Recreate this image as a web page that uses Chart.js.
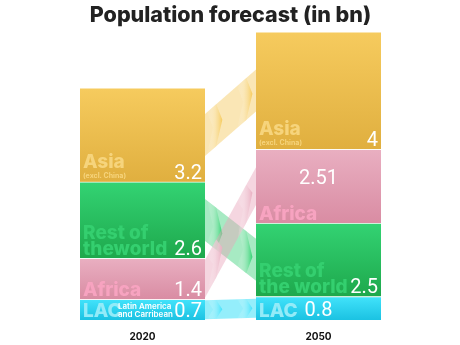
<!DOCTYPE html>
<html>
<head>
<meta charset="utf-8">
<script src="https://cdn.jsdelivr.net/npm/chart.js@4"></script>
<style>
  html, body { margin: 0; padding: 0; background: #fff; overflow: hidden; }
  #wrap { width: 460px; height: 345px; position: relative; }
</style>
</head>
<body>
<div id="wrap"><canvas id="popChart"></canvas></div>
<script>
var years = ['2020', '2050'];
var asia = [3.2, 4];
var restOfWorld = [2.6, 2.5];
var africa = [1.4, 2.51];
var lac = [0.7, 0.8];
// stacking order from the bottom, per year
var order2020 = ['lac', 'africa', 'rest', 'asia'];
var order2050 = ['lac', 'rest', 'africa', 'asia'];

var values = { asia: asia, rest: restOfWorld, africa: africa, lac: lac };
var orders = [order2020, order2050];

var looks = {
  asia:   { top: '#f6cb5e', bottom: '#e0af3f', name: '#f6d47c', band: 'rgba(244,200,90,0.45)',
            lines: [['Asia'], ['Asia']], sub: '(excl. China)' },
  rest:   { top: '#33d373', bottom: '#1ea84c', name: '#34cf6f', band: 'rgba(46,204,113,0.42)',
            lines: [['Rest of', 'theworld'], ['Rest of', 'the world']] },
  africa: { top: '#e9afc1', bottom: '#d98ca3', name: '#f7a3c0', band: 'rgba(232,165,186,0.45)',
            lines: [['Africa'], ['Africa']] },
  lac:    { top: '#42e3fb', bottom: '#1bc2e2', name: '#93ebf8', band: 'rgba(61,224,248,0.55)',
            lines: [['LAC'], ['LAC']], small: ['Latin America', 'and Carribean'] }
};

// floating [start, end] range of a region in each year's stack
function rangesFor(key) {
  return years.map(function (y, i) {
    var start = 0;
    for (var k = 0; k < orders[i].length; k++) {
      var r = orders[i][k];
      if (r === key) return [start, start + values[r][i]];
      start += values[r][i];
    }
  });
}

function totals() {
  return years.map(function (y, i) {
    return orders[i].reduce(function (s, k) { return s + values[k][i]; }, 0);
  });
}

function fillFor(key) {
  return function (ctx) {
    var chart = ctx.chart, look = looks[key];
    if (!chart.chartArea || !ctx.raw) return look.top;
    var ys = chart.scales.y;
    var t = ys.getPixelForValue(ctx.raw[1]), b = ys.getPixelForValue(ctx.raw[0]);
    var g = chart.ctx.createLinearGradient(0, t, 0, b);
    g.addColorStop(0, look.top);
    g.addColorStop(1, look.bottom);
    return g;
  };
}

var keys = ['lac', 'africa', 'rest', 'asia'];

function box(el) {
  return {
    left: el.x - el.width / 2, right: el.x + el.width / 2,
    top: Math.min(el.y, el.base), bottom: Math.max(el.y, el.base), x: el.x
  };
}

// translucent flow bands with arrow heads between the two bars
var flowPlugin = {
  id: 'flows',
  beforeDatasetsDraw: function (chart) {
    var c = chart.ctx;
    ['asia', 'rest', 'africa', 'lac'].forEach(function (key) {
      var meta = chart.getDatasetMeta(keys.indexOf(key));
      var a = box(meta.data[0]), b = box(meta.data[1]);
      var x0 = a.right, x1 = b.left, gap = x1 - x0;
      var c0 = (a.top + a.bottom) / 2, c1 = (b.top + b.bottom) / 2;
      var th = Math.min(42, 0.92 * Math.min(a.bottom - a.top, b.bottom - b.top));
      var yAt = function (x) { return c0 + (c1 - c0) * (x - x0) / gap; };
      var look = looks[key];

      c.save();
      c.fillStyle = look.band;
      c.beginPath();
      c.moveTo(x0, c0 - th / 2);
      c.lineTo(x1, c1 - th / 2);
      c.lineTo(x1, c1 + th / 2);
      c.lineTo(x0, c0 + th / 2);
      c.closePath();
      c.fill();

      [0.34, 0.93].forEach(function (f) {
        var xt = x0 + gap * f, xb = xt - gap * 0.3, n = gap * 0.12;
        var g = c.createLinearGradient(xb, 0, xt, 0);
        g.addColorStop(0, 'rgba(255,255,255,0)');
        g.addColorStop(1, look.top);
        c.fillStyle = g;
        c.beginPath();
        c.moveTo(xb, yAt(xb) - th / 2);
        c.lineTo(xt - n, yAt(xt - n) - th / 2);
        c.lineTo(xt, yAt(xt));
        c.lineTo(xt - n, yAt(xt - n) + th / 2);
        c.lineTo(xb, yAt(xb) + th / 2);
        c.lineTo(xb + n, yAt(xb + n));
        c.closePath();
        c.fill();
      });
      c.restore();
    });
  }
};

// region names and values written inside each segment
var labelPlugin = {
  id: 'segLabels',
  afterDatasetsDraw: function (chart) {
    var c = chart.ctx;
    keys.forEach(function (key, di) {
      var look = looks[key];
      chart.getDatasetMeta(di).data.forEach(function (el, i) {
        var s = box(el);
        var lines = look.lines[i];
        c.save();
        c.textBaseline = 'alphabetic';

        // name
        c.fillStyle = look.name;
        c.textAlign = 'left';
        c.font = '800 19px Inter';
        var base = s.bottom - (look.sub ? 14 : 3);
        for (var l = lines.length - 1; l >= 0; l--) {
          c.fillText(lines[l], s.left + 3, base - (lines.length - 1 - l) * 16);
        }
        if (look.sub) {
          c.font = '700 7px Inter';
          c.fillText(look.sub, s.left + 3, s.bottom - 4);
        }
        if (look.small && i === 0) {
          c.fillStyle = '#ffffff';
          c.font = '600 8px Inter';
          c.fillText(look.small[0], s.left + 38, s.bottom - 11);
          c.fillText(look.small[1], s.left + 38, s.bottom - 3);
        }

        // value
        c.fillStyle = '#ffffff';
        c.font = '400 20px Roboto';
        var txt = String(values[key][i]);
        if (i === 1 && key === 'africa') {
          c.textAlign = 'center';
          c.fillText(txt, s.x, (s.top + s.bottom) / 2 - 2);
        } else if (i === 1 && key === 'lac') {
          c.textAlign = 'center';
          c.fillText(txt, s.x, s.bottom - 4);
        } else {
          c.textAlign = 'right';
          c.fillText(txt, s.right - 3, s.bottom - 3);
        }
        c.restore();
      });
    });
  }
};

var ctx = document.getElementById('popChart').getContext('2d');
var myChart = new Chart(ctx, {
  type: 'bar',
  data: {
    labels: years,
    datasets: keys.map(function (key) {
      return {
        label: key,
        data: rangesFor(key),
        backgroundColor: fillFor(key),
        borderColor: 'rgba(255,255,255,0.75)',
        borderWidth: { top: 1 },
        borderSkipped: false,
        barThickness: 125,
        grouped: false
      };
    })
  },
  options: {
    responsive: true,
    maintainAspectRatio: false,
    animation: false,
    layout: { padding: { left: 54.5, right: 53.5, top: 0, bottom: -1 } },
    plugins: {
      legend: { display: false },
      tooltip: { enabled: false },
      title: {
        display: true,
        text: 'Population forecast (in bn)',
        color: '#222222',
        font: { family: 'Inter', size: 21.5, weight: '800' },
        padding: { top: 3, bottom: 3 }
      }
    },
    scales: {
      x: {
        grid: { display: false },
        border: { display: false },
        ticks: { color: '#111111', font: { family: 'Inter', size: 10, weight: '700' }, padding: 3 }
      },
      y: {
        display: false,
        min: 0,
        max: Math.max.apply(null, totals())
      }
    }
  },
  plugins: [flowPlugin, labelPlugin]
});
</script>
</body>
</html>
